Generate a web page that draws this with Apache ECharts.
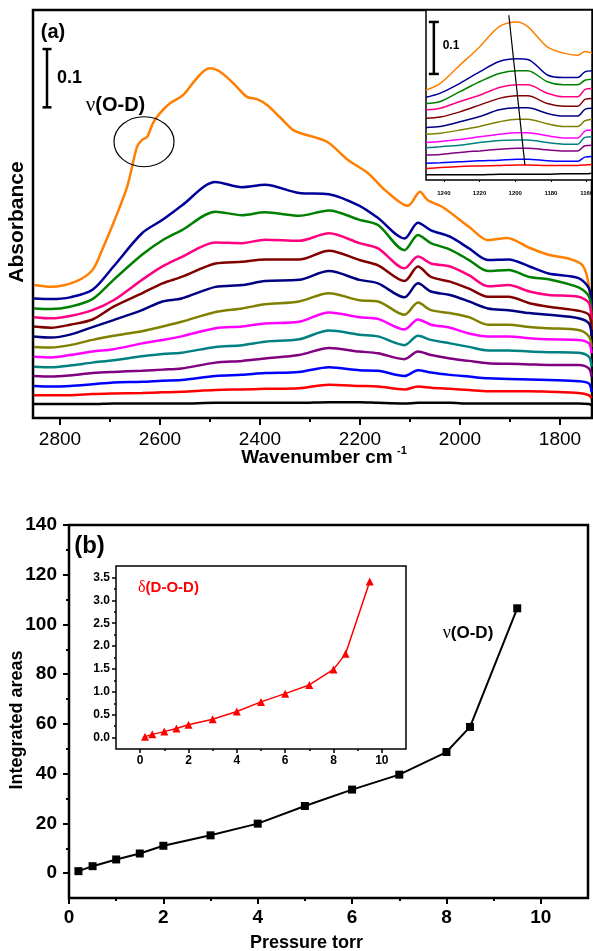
<!DOCTYPE html>
<html><head><meta charset="utf-8">
<script src="https://cdn.jsdelivr.net/npm/echarts@6/dist/echarts.min.js"></script>
<style>html,body{margin:0;padding:0;background:#fff}#c{width:593px;height:951px}</style>
</head><body><div id="c"></div>
<script>
// ---------- Panel (a): main spectra ----------
const WN = [2852,2818,2780,2735,2693,2636,2595,2557,2489,2436,2390,2322,2262,2201,2164,2111,2084,2058,2020,1982,1944,1903,1861,1823,1763,1742,1737];
const ORANGE_WN = [2852,2818,2769,2735,2716,2693,2666,2646,2636,2626,2614,2600,2580,2554,2534,2514,2500,2480,2454,2426,2406,2386,2360,2334,2320,2266,2226,2184,2150,2104,2080,2065,2035,1982,1944,1906,1861,1823,1785,1755,1742,1737];
const A_ORANGE = [0.228,0.225,0.234,0.254,0.288,0.335,0.396,0.465,0.477,0.482,0.506,0.523,0.540,0.554,0.575,0.594,0.600,0.594,0.575,0.551,0.547,0.537,0.516,0.494,0.489,0.474,0.444,0.420,0.391,0.364,0.388,0.374,0.362,0.328,0.305,0.309,0.292,0.280,0.274,0.262,0.225,0.151];
const A_NAVY1  = [0.205,0.204,0.207,0.220,0.260,0.317,0.340,0.364,0.405,0.396,0.400,0.386,0.384,0.364,0.343,0.308,0.335,0.322,0.311,0.291,0.271,0.272,0.260,0.248,0.240,0.222,0.191];
const A_GREEN  = [0.188,0.187,0.191,0.204,0.237,0.280,0.305,0.322,0.354,0.348,0.353,0.347,0.356,0.340,0.331,0.288,0.314,0.300,0.289,0.271,0.252,0.254,0.242,0.238,0.224,0.208,0.180];
const A_PINK   = [0.173,0.171,0.175,0.185,0.202,0.237,0.260,0.276,0.301,0.300,0.306,0.304,0.317,0.300,0.291,0.257,0.277,0.265,0.260,0.245,0.226,0.228,0.217,0.211,0.208,0.197,0.168];
const A_MAROON = [0.157,0.155,0.160,0.169,0.191,0.214,0.231,0.242,0.265,0.268,0.272,0.272,0.287,0.271,0.262,0.235,0.260,0.242,0.234,0.222,0.208,0.208,0.197,0.191,0.184,0.177,0.151];
const A_NAVY2  = [0.140,0.138,0.143,0.156,0.168,0.185,0.200,0.205,0.225,0.228,0.235,0.237,0.252,0.237,0.231,0.207,0.231,0.217,0.211,0.200,0.188,0.185,0.180,0.177,0.171,0.162,0.140];
const A_OLIVE  = [0.122,0.121,0.125,0.134,0.141,0.149,0.157,0.165,0.182,0.188,0.195,0.200,0.214,0.202,0.200,0.177,0.198,0.185,0.180,0.173,0.160,0.160,0.156,0.154,0.151,0.140,0.122];
const A_MAGENTA= [0.105,0.104,0.108,0.114,0.118,0.128,0.134,0.140,0.154,0.157,0.162,0.165,0.181,0.173,0.170,0.152,0.169,0.160,0.155,0.145,0.140,0.140,0.137,0.135,0.134,0.128,0.111];
const A_TEAL   = [0.088,0.087,0.090,0.095,0.099,0.106,0.110,0.112,0.122,0.125,0.131,0.135,0.150,0.143,0.140,0.125,0.141,0.134,0.128,0.122,0.116,0.116,0.114,0.113,0.112,0.105,0.088];
const A_PURPLE = [0.072,0.071,0.073,0.077,0.079,0.081,0.083,0.085,0.095,0.098,0.102,0.108,0.120,0.114,0.111,0.101,0.114,0.108,0.102,0.098,0.094,0.093,0.092,0.091,0.091,0.085,0.071];
const A_BLUE   = [0.055,0.054,0.055,0.058,0.061,0.062,0.064,0.065,0.072,0.074,0.077,0.079,0.087,0.082,0.081,0.072,0.082,0.078,0.074,0.071,0.068,0.067,0.066,0.065,0.063,0.059,0.045];
const A_RED    = [0.039,0.039,0.039,0.041,0.042,0.043,0.044,0.045,0.048,0.049,0.050,0.051,0.057,0.055,0.054,0.049,0.054,0.052,0.050,0.048,0.046,0.046,0.046,0.045,0.043,0.039,0.034];
const A_BLACK  = [0.024,0.024,0.024,0.024,0.025,0.025,0.025,0.025,0.026,0.026,0.026,0.026,0.027,0.027,0.026,0.025,0.026,0.026,0.026,0.025,0.025,0.025,0.025,0.025,0.025,0.024,0.022];
const A_TICKS = [1800,2000,2200,2400,2600,2800];
const A_MINOR = [1900,2100,2300,2500,2700];

// ---------- Panel (a): inset ----------
const I_WN = [1250,1242,1231,1220,1209,1199,1193,1182,1173,1165,1161,1157];
const I_ORANGE = [0.173,0.186,0.221,0.256,0.295,0.304,0.295,0.256,0.244,0.240,0.247,0.244];
const I_NAVY1  = [0.159,0.167,0.186,0.208,0.228,0.233,0.232,0.202,0.197,0.197,0.208,0.210];
const I_GREEN  = [0.147,0.151,0.170,0.189,0.205,0.210,0.210,0.189,0.183,0.183,0.192,0.194];
const I_PINK   = [0.135,0.138,0.151,0.163,0.178,0.183,0.183,0.167,0.160,0.160,0.174,0.176];
const I_MAROON = [0.119,0.121,0.131,0.144,0.157,0.162,0.162,0.147,0.142,0.142,0.155,0.157];
const I_NAVY2  = [0.101,0.103,0.112,0.122,0.135,0.139,0.139,0.128,0.123,0.123,0.136,0.138];
const I_OLIVE  = [0.088,0.090,0.096,0.103,0.112,0.117,0.117,0.108,0.103,0.103,0.114,0.117];
const I_MAGENTA= [0.072,0.074,0.078,0.083,0.088,0.091,0.091,0.085,0.081,0.081,0.094,0.096];
const I_TEAL   = [0.062,0.064,0.067,0.072,0.076,0.077,0.077,0.072,0.069,0.069,0.082,0.083];
const I_PURPLE = [0.048,0.049,0.053,0.056,0.059,0.061,0.061,0.058,0.056,0.056,0.066,0.067];
const I_BLUE   = [0.032,0.033,0.035,0.037,0.038,0.040,0.040,0.037,0.036,0.036,0.044,0.045];
const I_RED    = [0.022,0.024,0.026,0.027,0.028,0.029,0.029,0.028,0.028,0.028,0.029,0.030];
const I_BLACK  = [0.010,0.010,0.010,0.010,0.011,0.011,0.011,0.011,0.012,0.012,0.012,0.013];
const I_TICKS = [1160,1180,1200,1220,1240];
const I_SHIFT_LINE = [[1203.6,0.317],[1194.6,0.029]];
const SCALE_MAIN = [[2826,0.533,0.633]];
const SCALE_INSET = [[1245.6,0.204,0.304]];
const CIRCLE_AT = [[2632,0.474]];

// ---------- Panel (b) ----------
const PRESSURE = [0.2,0.5,1,1.5,2,3,4,5,6,7,8,8.5,9.5];
const AREA_OD  = [0.8,2.8,5.5,7.9,11.0,15.2,19.9,27.0,33.6,39.6,48.7,58.8,106.5];
const AREA_DOD = [0.02,0.07,0.13,0.20,0.28,0.40,0.57,0.78,0.96,1.15,1.49,1.83,3.41];
const B_XTICKS = [0,2,4,6,8,10];
const B_XMINOR = [1,3,5,7,9];
const B_YTICKS = [0,20,40,60,80,100,120,140];
const B_YMINOR = [10,30,50,70,90,110,130];
const BI_YTICKS = [0,0.5,1,1.5,2,2.5,3,3.5];
const BI_YMINOR = [0.25,0.75,1.25,1.75,2.25,2.75,3.25];

const COLORS = ['#FF7F00','#000099','#008000','#FF0080','#800000','#000080','#808000','#FF00FF','#008080','#800080','#0000FF','#FF0000','#000000'];
const MAIN_SETS = [A_NAVY1,A_GREEN,A_PINK,A_MAROON,A_NAVY2,A_OLIVE,A_MAGENTA,A_TEAL,A_PURPLE,A_BLUE,A_RED,A_BLACK];
const INSET_SETS = [I_ORANGE,I_NAVY1,I_GREEN,I_PINK,I_MAROON,I_NAVY2,I_OLIVE,I_MAGENTA,I_TEAL,I_PURPLE,I_BLUE,I_RED,I_BLACK];

const FF = 'Liberation Sans, Arial, sans-serif';
const pair = (xs, ys) => xs.map((x, i) => [x, ys[i]]);

const series = [];
series.push({type:'line', xAxisIndex:0, yAxisIndex:0, data:pair(ORANGE_WN, A_ORANGE), smooth:0.3, symbol:'none', lineStyle:{color:COLORS[0], width:2.5}, z:3});
MAIN_SETS.forEach((s, i) => series.push({type:'line', xAxisIndex:0, yAxisIndex:0, data:pair(WN, s), smooth:0.3, symbol:'none', lineStyle:{color:COLORS[i+1], width:2.5}, z:3}));
INSET_SETS.forEach((s, i) => series.push({type:'line', xAxisIndex:2, yAxisIndex:1, data:pair(I_WN, s), smooth:0.3, symbol:'none', lineStyle:{color:COLORS[i], width:1.5}, z:3}));
series.push({type:'line', xAxisIndex:2, yAxisIndex:1, data:I_SHIFT_LINE, symbol:'none', lineStyle:{color:'#000', width:1.2}, z:4});

function scaleBar(cap, lw) {
  return function (params, api) {
    const p0 = api.coord([api.value(0), api.value(1)]);
    const p1 = api.coord([api.value(0), api.value(2)]);
    const st = {stroke:'#000', lineWidth:lw};
    return {type:'group', children:[
      {type:'line', shape:{x1:p0[0], y1:p0[1], x2:p1[0], y2:p1[1]}, style:st},
      {type:'line', shape:{x1:p0[0]-cap, y1:p0[1], x2:p0[0]+cap, y2:p0[1]}, style:st},
      {type:'line', shape:{x1:p1[0]-cap, y1:p1[1], x2:p1[0]+cap, y2:p1[1]}, style:st}
    ]};
  };
}
series.push({type:'custom', xAxisIndex:0, yAxisIndex:0, data:SCALE_MAIN, encode:{x:0, y:[1,2]}, renderItem:scaleBar(4.5, 2.5), z:5});
series.push({type:'custom', xAxisIndex:2, yAxisIndex:1, data:SCALE_INSET, encode:{x:0, y:[1,2]}, renderItem:scaleBar(5, 2.5), z:5});
series.push({type:'custom', xAxisIndex:0, yAxisIndex:0, data:CIRCLE_AT, encode:{x:0, y:1}, z:5,
  renderItem: function (params, api) {
    const p = api.coord([api.value(0), api.value(1)]);
    return {type:'ellipse', shape:{cx:p[0], cy:p[1], rx:30, ry:25}, style:{stroke:'#000', fill:null, lineWidth:1.2}};
  }});

series.push({type:'line', xAxisIndex:3, yAxisIndex:2, data:pair(PRESSURE, AREA_OD), symbol:'rect', symbolSize:8, itemStyle:{color:'#000'}, lineStyle:{color:'#000', width:2}, z:3});
series.push({type:'line', xAxisIndex:4, yAxisIndex:4, data:pair(PRESSURE, AREA_DOD), symbol:'triangle', symbolSize:8, itemStyle:{color:'#FF0000'}, lineStyle:{color:'#FF0000', width:1.5}, z:3});

const noAxis = {axisLine:{show:false, onZero:false}, axisTick:{show:false}, axisLabel:{show:false}, splitLine:{show:false}};
function tickAxis(base, vals, len, lw, label) {
  return Object.assign({type:'value', splitLine:{show:false}, axisLine:{show:false, onZero:false},
    axisTick:{show:true, inside:false, length:len, customValues:vals, lineStyle:{color:'#000', width:lw}},
    axisLabel: label ? Object.assign({customValues:vals, color:'#000', fontFamily:FF, formatter: v => String(v)}, label) : {show:false}
  }, base);
}
const gridBase = {show:true, borderColor:'#000', containLabel:false, outerBoundsMode:'none'};

const option = {
  animation:false,
  backgroundColor:'#fff',
  textStyle:{fontFamily:FF},
  grid:[
    Object.assign({left:33, top:10, width:559, height:408, borderWidth:2.5, backgroundColor:'transparent'}, gridBase),
    Object.assign({left:426, top:10, width:166, height:170, borderWidth:1.5, backgroundColor:'#fff'}, gridBase),
    Object.assign({left:69, top:525, width:519, height:373, borderWidth:2.5, backgroundColor:'transparent'}, gridBase),
    Object.assign({left:116, top:566, width:290, height:183, borderWidth:1.5, backgroundColor:'#fff'}, gridBase)
  ],
  xAxis:[
    tickAxis({gridIndex:0, position:'bottom', inverse:true, min:1736, max:2854}, A_TICKS, 7, 2, {fontSize:19, margin:12}),
    tickAxis({gridIndex:0, position:'bottom', inverse:true, min:1736, max:2854}, A_MINOR, 4, 2, null),
    tickAxis({gridIndex:1, position:'bottom', inverse:true, min:1157, max:1250}, I_TICKS, 2, 1, {fontSize:6, fontWeight:'bold', margin:10}),
    tickAxis({gridIndex:2, position:'bottom', min:0, max:11}, B_XTICKS, 6, 2, {fontSize:19, fontWeight:'bold', margin:10}),
    tickAxis({gridIndex:3, position:'bottom', min:-1, max:11}, B_XTICKS, 4, 1.5, {fontSize:12, fontWeight:'bold', margin:6}),
    tickAxis({gridIndex:3, position:'bottom', min:-1, max:11}, B_XMINOR, 2, 1.5, null),
    tickAxis({gridIndex:2, position:'bottom', min:0, max:11}, B_XMINOR, 3, 2, null)
  ],
  yAxis:[
    Object.assign({type:'value', gridIndex:0, min:0, max:0.7}, noAxis),
    Object.assign({type:'value', gridIndex:1, min:0, max:0.327}, noAxis),
    tickAxis({gridIndex:2, position:'left', min:-10, max:140}, B_YTICKS, 6, 2, {fontSize:19, fontWeight:'bold', margin:12}),
    tickAxis({gridIndex:2, position:'left', min:-10, max:140}, B_YMINOR, 3, 2, null),
    tickAxis({gridIndex:3, position:'left', min:-0.25, max:3.75}, BI_YTICKS, 4, 1.5, {fontSize:12, fontWeight:'bold', margin:6, formatter:v => Number(v).toFixed(1)}),
    tickAxis({gridIndex:3, position:'left', min:-0.25, max:3.75}, BI_YMINOR, 2, 1.5, null)
  ],
  series: series,
  graphic:[
    {type:'text', x:53, y:32, style:{text:'(a)', font:'bold 20px '+FF, fill:'#000', align:'center', verticalAlign:'middle'}, z:10},
    {type:'text', x:69.5, y:78.5, style:{text:'0.1', font:'bold 18px '+FF, fill:'#000', align:'center', verticalAlign:'middle'}, z:10},
    {type:'text', x:115.5, y:105, style:{text:'{g|ν}{t|(O-D)}', align:'center', verticalAlign:'middle',
      rich:{g:{fontFamily:'Liberation Serif, serif', fontSize:21, fill:'#000', fontWeight:'normal'}, t:{fontFamily:FF, fontSize:20, fontWeight:'bold', fill:'#000'}}}, z:10},
    {type:'text', x:451, y:46, style:{text:'0.1', font:'bold 12px '+FF, fill:'#000', align:'center', verticalAlign:'middle'}, z:10},
    {type:'text', x:17, y:222, rotation:Math.PI/2, style:{text:'Absorbance', font:'bold 21px '+FF, fill:'#000', align:'center', verticalAlign:'middle'}, z:10},
    {type:'text', x:317, y:458, style:{text:'Wavenumber cm', font:'bold 19px '+FF, fill:'#000', align:'center', verticalAlign:'middle'}, z:10},
    {type:'text', x:397, y:451, style:{text:'-1', font:'bold 11px '+FF, fill:'#000', align:'left', verticalAlign:'middle'}, z:10},
    {type:'text', x:89.5, y:546, style:{text:'(b)', font:'bold 24px '+FF, fill:'#000', align:'center', verticalAlign:'middle'}, z:10},
    {type:'text', x:468, y:633, style:{text:'{g|ν}{t|(O-D)}', align:'center', verticalAlign:'middle',
      rich:{g:{fontFamily:'Liberation Serif, serif', fontSize:18, fill:'#000', fontWeight:'normal'}, t:{fontFamily:FF, fontSize:17, fontWeight:'bold', fill:'#000'}}}, z:10},
    {type:'text', x:168.5, y:588, style:{text:'{g|δ}{t|(D-O-D)}', align:'center', verticalAlign:'middle',
      rich:{g:{fontFamily:'Liberation Serif, serif', fontSize:16, fill:'#FF0000', fontWeight:'normal'}, t:{fontFamily:FF, fontSize:15, fontWeight:'bold', fill:'#FF0000'}}}, z:10},
    {type:'text', x:17, y:720, rotation:Math.PI/2, style:{text:'Integrated areas', font:'bold 18px '+FF, fill:'#000', align:'center', verticalAlign:'middle'}, z:10},
    {type:'text', x:306.5, y:943, style:{text:'Pressure torr', font:'bold 18px '+FF, fill:'#000', align:'center', verticalAlign:'middle'}, z:10}
  ]
};
const chart = echarts.init(document.getElementById('c'), null, {renderer:'canvas'});
chart.setOption(option);
</script></body></html>
